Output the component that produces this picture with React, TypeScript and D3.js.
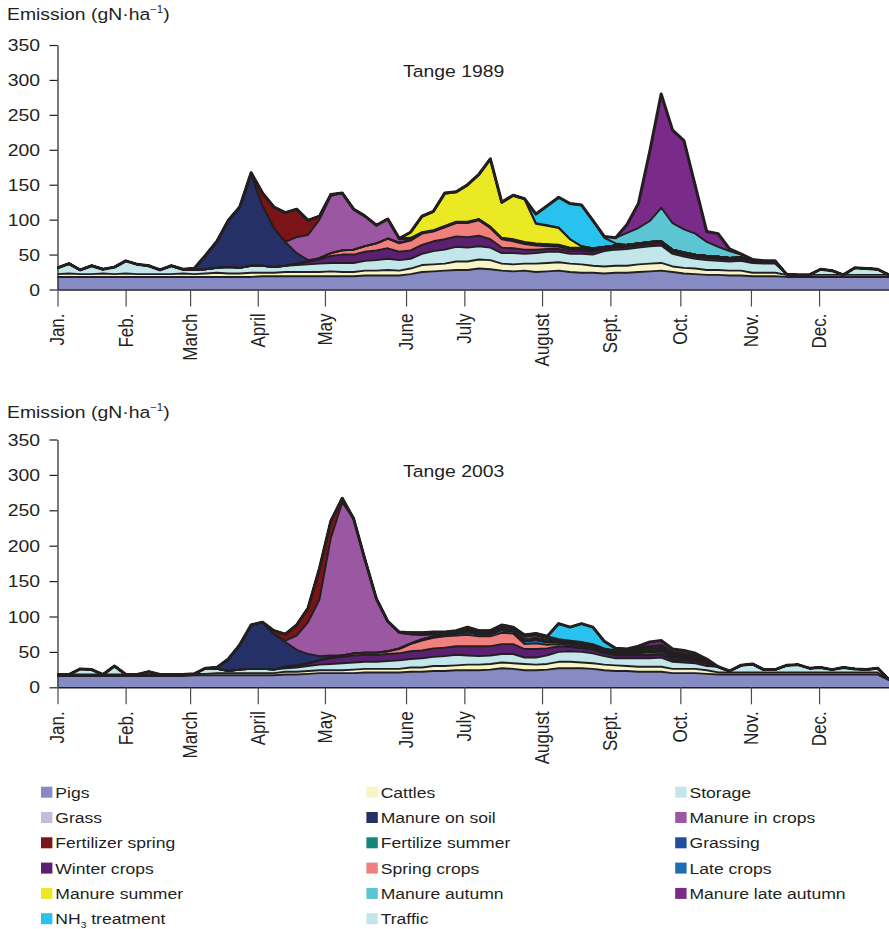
import { useEffect, useRef } from "react";
import * as d3 from "d3";

type Series = { from: number; values: number[] };
type Row = { day: number; [key: string]: number };

// daily emissions every 5 days
const STEP = 5;
const DAYS = d3.range(0, 366, STEP);

const MONTH_LABELS = ["Jan.", "Feb.", "March", "April", "May", "June", "July", "August", "Sept.", "Oct.", "Nov.", "Dec."];
const MONTH_DAYS = [0, 29.9, 58.2, 87.9, 117.4, 153, 178.6, 212.7, 242.7, 273.4, 304.4, 334.3];
const Y_TICKS = [0, 50, 100, 150, 200, 250, 300, 350];

const LEGEND_NAMES = [
  "Pigs", "Cattles", "Storage",
  "Grass", "Manure on soil", "Manure in crops",
  "Fertilizer spring", "Fertilize summer", "Grassing",
  "Winter crops", "Spring crops", "Late crops",
  "Manure summer", "Manure autumn", "Manure late autumn",
  "NH3 treatment", "Traffic",
];
const LEGEND_COLORS = [
  "#878bc3", "#f6f5c6", "#c2e6ea",
  "#c1bddc", "#243066", "#9c57a2",
  "#7b1416", "#13857d", "#1e4e9c",
  "#5b2170", "#f07f7e", "#1f6db4",
  "#ebe824", "#5bc5d4", "#7a2a88",
  "#29c1ee", "#c2e6ea",
];

// bottom to top
const STACK_KEYS = [
  "Pigs", "Cattles", "Storage", "Winter crops", "Spring crops", "Late crops",
  "Manure on soil", "Manure in crops", "Fertilizer spring", "Fertilize summer",
  "Manure summer", "Grassing", "NH3 treatment", "Manure autumn", "Manure late autumn",
];

// ---- Tange 1989 ----
const pigs89: Series = { from: 0, values: [18,18,18,18,18,18,18,18,18,18, 18,18,18,18,18,18,18,18,19,19, 19,19,19,19,19,19,19,20,20,20, 20,22,25,26,27,28,28,30,29,27, 26,27,25,26,27,25,24,24,23,24, 24,25,26,27,25,23,22,21,21,20, 20,19,19,19,18,18,18,18,18,18, 18,18,18,18] };
const cattles89: Series = { from: 0, values: [4,5,4,4,5,4,5,4,4,4, 4,5,4,5,6,5,5,6,5,5, 6,6,6,6,7,6,6,7,7,8, 7,8,10,10,10,12,12,13,13,10, 10,10,12,12,12,12,12,10,10,10, 10,11,11,11,8,8,8,7,7,7, 7,5,5,5,3,3,3,3,3,3, 3,3,3,3] };
const storage89: Series = { from: 0, values: [9,14,6,12,6,10,18,14,12,6, 12,6,6,6,7,9,8,10,10,8, 9,10,11,12,12,13,13,14,15,16, 15,14,16,19,20,21,20,19,18,15, 16,14,15,16,15,14,15,16,22,23, 24,24,25,25,18,16,14,14,13,13, 14,14,13,13,1,0,0,8,6,0, 10,9,8,0] };
const winterCrops89: Series = { from: 105, values: [2,4,6,10,12,12,13,14,15,12, 12,13,14,15,15,15,15,12,8,7, 6,5,4,4,4,4,4,3,3,3, 3,3,3,3,3,3,3,3,3,3, 2,2,2] };
const springCrops89: Series = { from: 115, values: [2,4,6,7,8,10,14,12,14,16, 14,17,19,20,22,16,12,10,8,6, 4,3,2,2,2,1,1,1,1,1, 1,1,1,1,1,1,1,1,1,1, 1] };
const lateCrops89: Series = { from: 150, values: [1,1,1,1,1,1,1,1,1,1, 2,2,2,2,2,2,2,2,2,2, 2,2,2,2,2,2,2,2,2,1, 1,1,1,1] };
const manureOnSoil89: Series = { from: 60, values: [2,20,38,67,87,130,86,56,34,15,2] };
const manureInCrops89: Series = { from: 105, values: [23,36,55,82,82,58,43,26,28,5,2] };
const fertilizerSpring89: Series = { from: 85, values: [3,18,30,42,40,21,5,2] };
const fertilizeSummer89: Series = { from: 150, values: [1,1,1,1,1,1,1,1,1,1,1,1,1,1,1,1,1,1] };
const manureSummer89: Series = { from: 155, values: [8,22,26,46,42,52,63,96,50,62,61,28,26,24,12,2] };
const grassing89: Series = { from: 160, values: [1,1,1,1,1,1,1,1,1,1,1,1,1] };
const nh3_89: Series = { from: 210, values: [13,28,43,51,59,40,13,3] };
const manureAutumn89: Series = { from: 240, values: [2,8,17,22,30,48,38,33,30,20,14,10,4,1] };
const manureLateAutumn89: Series = { from: 250, values: [12,35,100,163,133,127,68,15,19,3,1] };

// ---- Tange 2003 ----
const pigs03: Series = { from: 0, values: [16,16,16,16,16,16,16,16,16,16, 16,16,17,17,17,17,17,17,17,17, 18,18,19,20,20,20,20,21,21,21, 21,22,22,23,23,24,24,24,25,27, 26,24,24,25,27,27,27,26,24,23, 23,22,22,22,20,20,20,19,18,18, 18,18,18,18,18,18,18,18,18,18, 18,18,18,10] };
const cattles03: Series = { from: 0, values: [2,2,2,2,2,2,2,2,2,2, 2,2,2,2,3,3,3,3,3,3, 4,4,4,4,4,4,5,5,5,5, 5,6,6,7,7,7,8,8,8,8, 8,9,8,8,9,9,8,8,8,8, 7,7,7,7,6,6,6,5,3,3, 3,3,3,3,3,3,3,3,3,3, 3,3,3,1] };
const storage03: Series = { from: 0, values: [0,0,8,7,0,12,0,0,4,0, 0,0,0,8,6,3,5,6,6,5, 5,6,7,8,9,10,10,10,10,11, 12,12,13,13,14,15,13,12,12,12, 13,9,10,12,14,15,15,14,12,10, 11,12,12,13,10,9,8,6,8,2, 10,12,4,4,10,11,6,7,4,7, 5,4,6,0] };
const winterCrops03: Series = { from: 100, values: [2,3,4,6,8,9,10,10,10,10, 10,11,11,12,12,12,13,14,13,14, 14,12,12,10,8,6,5,5,4,4, 4,4,4,4,3,3,3,3] };
const springCrops03: Series = { from: 120, values: [2,2,3,3,3,4, 6,10,14,15,16,15,16,14,14,16, 15,7,8,5,3,2,2,2,1,1, 1,1,1,1,1,1,1,1] };
const lateCrops03: Series = { from: 150, values: [1,1,2,2,2,3,4,3,3,4,3,4,5,4,3,3,3,2,2,2,3,3,4,4,3,3,2,2] };
const fertilizeSummer03: Series = { from: 150, values: [0,1,1,1,1,1,2,2,2,2,2,3,3,3,1,1,1,1,1,1,2,2,2,2,2,2,2,1] };
const manureSummer03: Series = { from: 150, values: [1,1,1,1,2,2,2,1,1,2,2,3,3,2,1,1,1,1,1,1,1,1,2,2,1,1,1,1] };
const grassing03: Series = { from: 150, values: [0,0,1,1,1,1,3,2,2,3,2,3,3,3,2,2,2,2,2,2,2,2,2,2,2,1,1,1] };
const manureOnSoil03: Series = { from: 70, values: [2,17,35,62,66,50,35,22,13,6,2] };
const manureInCrops03: Series = { from: 100, values: [2,20,45,80,166,216,190,131,76,42,22,13,6,3] };
const fertilizerSpring03: Series = { from: 95, values: [5,9,15,20,44,24,6] };
const nh3_03: Series = { from: 220, values: [22,19,26,24,10,3] };
const manureAutumn03: Series = { from: 255, values: [2,2,3,2,2,1] };
const manureLateAutumn03: Series = { from: 255, values: [2,6,6,4,4,3,1] };

const SERIES_1989: Record<string, Series> = {
  "Pigs": pigs89, "Cattles": cattles89, "Storage": storage89,
  "Winter crops": winterCrops89, "Spring crops": springCrops89, "Late crops": lateCrops89,
  "Manure on soil": manureOnSoil89, "Manure in crops": manureInCrops89,
  "Fertilizer spring": fertilizerSpring89, "Fertilize summer": fertilizeSummer89,
  "Manure summer": manureSummer89, "Grassing": grassing89, "NH3 treatment": nh3_89,
  "Manure autumn": manureAutumn89, "Manure late autumn": manureLateAutumn89,
};
const SERIES_2003: Record<string, Series> = {
  "Pigs": pigs03, "Cattles": cattles03, "Storage": storage03,
  "Winter crops": winterCrops03, "Spring crops": springCrops03, "Late crops": lateCrops03,
  "Manure on soil": manureOnSoil03, "Manure in crops": manureInCrops03,
  "Fertilizer spring": fertilizerSpring03, "Fertilize summer": fertilizeSummer03,
  "Manure summer": manureSummer03, "Grassing": grassing03, "NH3 treatment": nh3_03,
  "Manure autumn": manureAutumn03, "Manure late autumn": manureLateAutumn03,
};

const INK = "#231f20";
const FONT = "'Liberation Sans', Arial, Helvetica, sans-serif";
const STRETCH = 1.14; // the figure's type is set slightly wide

const colorOf = new Map(LEGEND_NAMES.map((n, i) => [n, LEGEND_COLORS[i]]));

function buildRows(series: Record<string, Series>): Row[] {
  return DAYS.map((day, i) => {
    const row: Row = { day };
    STACK_KEYS.forEach((k) => {
      const s = series[k];
      const j = s ? i - s.from / STEP : -1;
      row[k] = s && j >= 0 && j < s.values.length ? s.values[j] : 0;
    });
    return row;
  });
}

function addText(parent: any, x: number, y: number, size: number, anchor = "start", rotate = 0) {
  return parent
    .append("text")
    .attr("transform", `translate(${x},${y}) scale(${STRETCH},1)${rotate ? ` rotate(${rotate})` : ""}`)
    .attr("text-anchor", anchor)
    .attr("font-size", size)
    .attr("font-family", FONT)
    .attr("fill", INK);
}

function drawPanel(root: any, rows: Row[], title: string, y0: number, y350: number, titleY: number, unitY: number) {
  const x = d3.scaleLinear().domain([0, 365]).range([57.5, 889]);
  const y = d3.scaleLinear().domain([0, 350]).range([y0, y350]);
  const stacked = d3.stack<Row>().keys(STACK_KEYS)(rows);

  const g = root.append("g");

  const area = d3
    .area<d3.SeriesPoint<Row>>()
    .x((d) => x(d.data.day))
    .y0((d) => y(d[0]))
    .y1((d) => y(d[1]));

  // fills first, then every layer boundary as a dark line on top
  g.selectAll("path.layer")
    .data(stacked)
    .join("path")
    .attr("class", "layer")
    .attr("fill", (d: any) => colorOf.get(d.key))
    .attr("stroke", "none")
    .attr("d", area as any);

  const edge = d3
    .line<d3.SeriesPoint<Row>>()
    .x((d) => x(d.data.day))
    .y((d) => y(d[1]));

  g.selectAll("path.edge")
    .data(stacked.slice(0, -1))
    .join("path")
    .attr("class", "edge")
    .attr("fill", "none")
    .attr("stroke", INK)
    .attr("stroke-width", 1.9)
    .attr("stroke-linejoin", "round")
    .attr("d", edge as any);

  g.append("path")
    .datum(stacked[stacked.length - 1])
    .attr("fill", "none")
    .attr("stroke", INK)
    .attr("stroke-width", 3)
    .attr("stroke-linejoin", "round")
    .attr("d", edge as any);

  const yAxis = g
    .append("g")
    .attr("transform", `translate(${x(0)},0)`)
    .call(d3.axisLeft(y).tickValues(Y_TICKS).tickSize(8).tickSizeOuter(0).tickFormat(() => ""));
  yAxis.selectAll("path, line").attr("stroke", INK).attr("stroke-width", 1.2);

  const xAxis = g
    .append("g")
    .attr("transform", `translate(0,${y0})`)
    .call(d3.axisBottom(x).tickValues(MONTH_DAYS).tickSize(17).tickSizeOuter(0).tickFormat(() => ""));
  xAxis.selectAll("path").attr("stroke", INK).attr("stroke-width", 1.6);
  xAxis.selectAll("line").attr("stroke", "#4a4a4a").attr("stroke-width", 1.2);

  Y_TICKS.forEach((v) => {
    addText(g, 40, y(v), 17, "end").attr("dy", "0.36em").text(v);
  });
  MONTH_DAYS.forEach((d, i) => {
    addText(g, x(d), y0 + 24, 17, "end", -90).attr("dy", "0.36em").text(MONTH_LABELS[i]);
  });

  addText(g, 403, titleY, 17).text(title);

  const unit = addText(g, 7, unitY, 17);
  unit.append("tspan").text("Emission (gN");
  unit.append("tspan").text("·");
  unit.append("tspan").text("ha");
  unit.append("tspan").attr("font-size", 10).attr("dy", -7).text("−1");
  unit.append("tspan").attr("dy", 7).text(")");
}

function drawLegend(root: any) {
  const colX = [41, 366.4, 675.2];
  const g = root.append("g");
  LEGEND_NAMES.forEach((name, i) => {
    const col = i % 3;
    const row = Math.floor(i / 3);
    const base = 797.7 + row * 25.3;
    g.append("rect")
      .attr("x", colX[col])
      .attr("y", base - 11)
      .attr("width", 11.4)
      .attr("height", 11)
      .attr("fill", LEGEND_COLORS[i]);
    const t = addText(g, colX[col] + 14.3, base, 15.4);
    if (name === "NH3 treatment") {
      t.append("tspan").text("NH");
      t.append("tspan").attr("font-size", 9).attr("dy", 3.5).text("3");
      t.append("tspan").attr("dy", -3.5).text(" treatment");
    } else {
      t.text(name);
    }
  });
}

const App = () => {
  const svgRef = useRef<SVGSVGElement | null>(null);

  useEffect(() => {
    const svg = d3.select(svgRef.current);
    svg.selectAll("*").remove();
    drawPanel(svg, buildRows(SERIES_1989), "Tange 1989", 289.5, 45, 77, 20);
    drawPanel(svg, buildRows(SERIES_2003), "Tange 2003", 687.3, 439.5, 477, 418);
    drawLegend(svg);
  }, []);

  return (
    <svg
      ref={svgRef}
      width={889}
      height={929}
      viewBox="0 0 889 929"
      style={{ position: "absolute", left: 0, top: 0, background: "#fff" }}
    />
  );
};

export default App;
